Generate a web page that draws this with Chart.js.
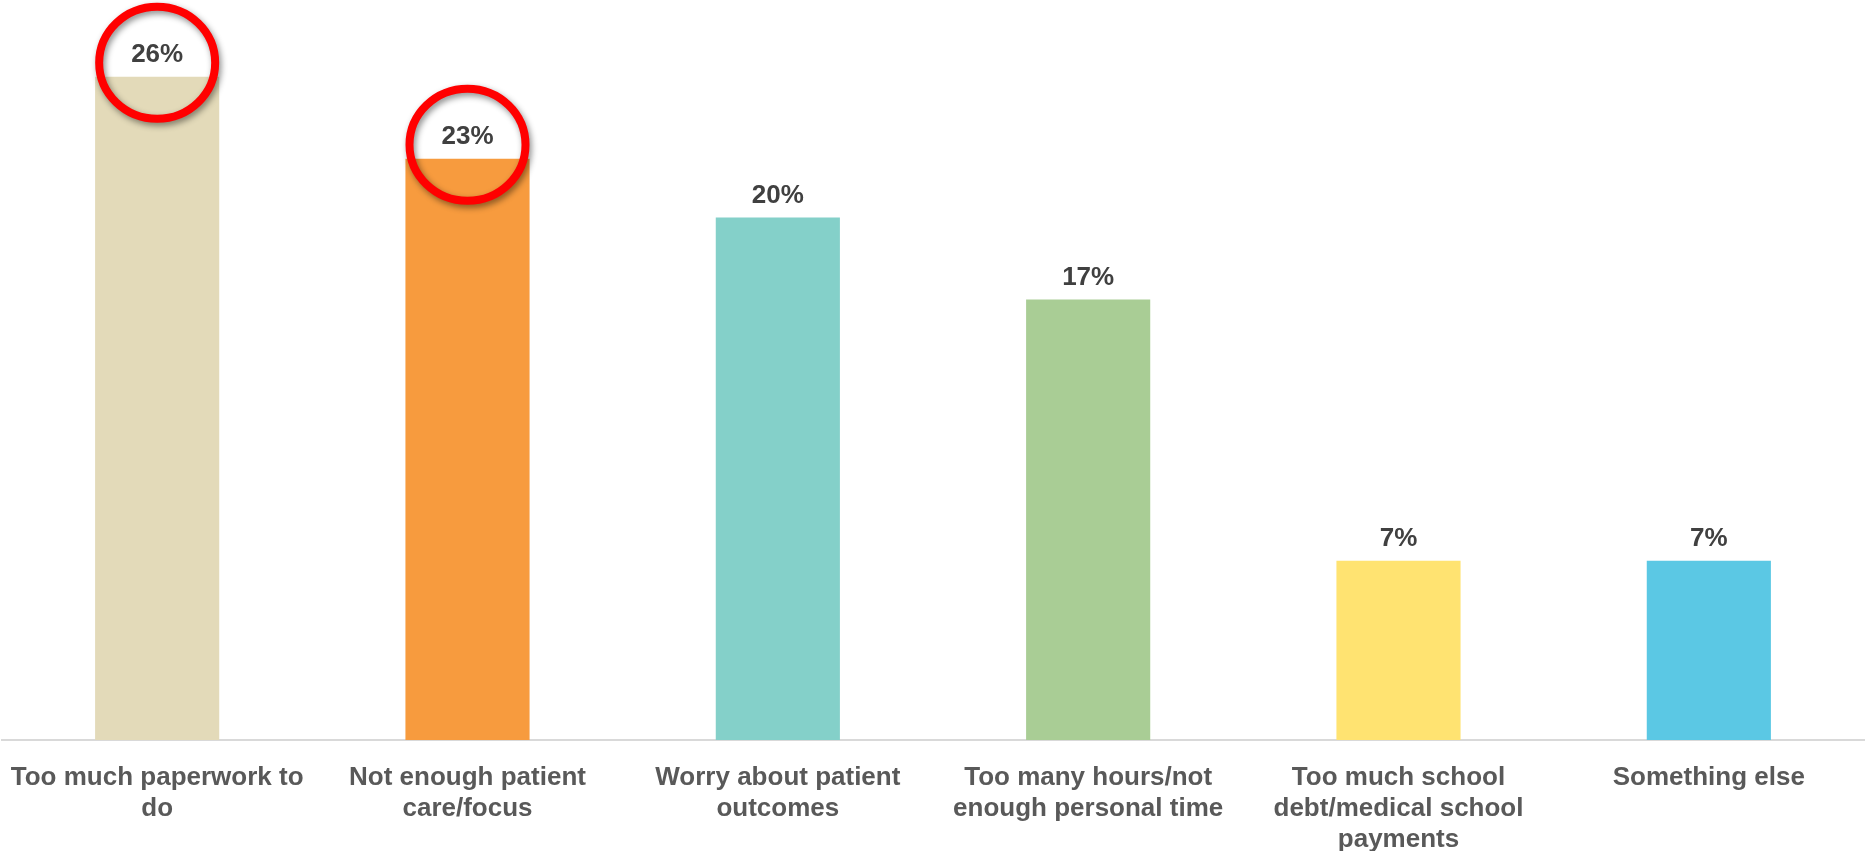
<!DOCTYPE html>
<html>
<head>
  <meta charset="UTF-8">
  <title>Reasons</title>
  <script src="https://cdn.jsdelivr.net/npm/chart.js"></script>
  <style>
    body { margin: 0; background: #fff; }
    #wrap { width: 1865px; height: 851px; }
  </style>
</head>
<body>
  <div id="wrap"><canvas id="chart"></canvas></div>

  <script>
  // categories (multi-line tick labels)
  const categories = [
    ['Too much paperwork to', 'do'],
    ['Not enough patient', 'care/focus'],
    ['Worry about patient', 'outcomes'],
    ['Too many hours/not', 'enough personal time'],
    ['Too much school', 'debt/medical school', 'payments'],
    ['Something else']
  ];
  const values = [25.9, 22.7, 20.4, 17.2, 7.0, 7.0];
  const barColors = ['#E3DAB9', '#F79B3E', '#84D0C9', '#A9CD95', '#FFE371', '#5BC8E4'];
  const circled = [0, 1];   // bars whose label gets the red ring

  Chart.defaults.font.family = 'Arial, "Liberation Sans", sans-serif';

  // value labels above each bar
  const valueLabels = {
    id: 'valueLabels',
    afterDatasetsDraw(chart) {
      const ctx = chart.ctx;
      ctx.save();
      ctx.font = 'bold 26px Arial, "Liberation Sans", sans-serif';
      ctx.fillStyle = '#404040';
      ctx.textAlign = 'center';
      ctx.textBaseline = 'middle';
      chart.getDatasetMeta(0).data.forEach((bar, i) => {
        ctx.fillText(Math.round(values[i]) + '%', bar.x, bar.y - 22);
      });
      ctx.restore();
    }
  };

  // red rings around the top two
  const rings = {
    id: 'rings',
    afterDraw(chart) {
      const ctx = chart.ctx;
      const bars = chart.getDatasetMeta(0).data;
      ctx.save();
      ctx.strokeStyle = '#FF0000';
      ctx.lineWidth = 8;
      ctx.shadowColor = 'rgba(0,0,0,0.45)';
      ctx.shadowBlur = 6;
      ctx.shadowOffsetX = 2;
      ctx.shadowOffsetY = 3;
      circled.forEach(i => {
        const b = bars[i];
        ctx.beginPath();
        ctx.ellipse(b.x, b.y - 14, 58, 56, 0, 0, Math.PI * 2);
        ctx.stroke();
      });
      ctx.restore();
    }
  };

  new Chart(document.getElementById('chart'), {
    type: 'bar',
    data: {
      labels: categories,
      datasets: [{
        data: values,
        backgroundColor: barColors,
        borderWidth: 0,
        categoryPercentage: 1,
        barPercentage: 0.4
      }]
    },
    options: {
      responsive: true,
      maintainAspectRatio: false,
      animation: false,
      layout: { padding: { top: 23, left: 2, right: 1, bottom: 0 } },
      plugins: {
        legend: { display: false },
        tooltip: { enabled: false }
      },
      scales: {
        y: {
          display: false,
          min: 0,
          max: 28
        },
        x: {
          grid: { display: false, drawTicks: false },
          border: { display: true, color: '#D9D9D9', width: 2 },
          ticks: {
            autoSkip: false,
            maxRotation: 0,
            padding: 22,
            color: '#595959',
            font: { size: 26, weight: 'bold', lineHeight: 1.19 }
          },
          afterFit(scale) {
            // keep labels from pushing the plot inward, fix axis band height
            scale.paddingLeft = 0;
            scale.paddingRight = 0;
            scale.height = 111;
          }
        }
      }
    },
    plugins: [valueLabels, rings]
  });
  </script>
</body>
</html>
